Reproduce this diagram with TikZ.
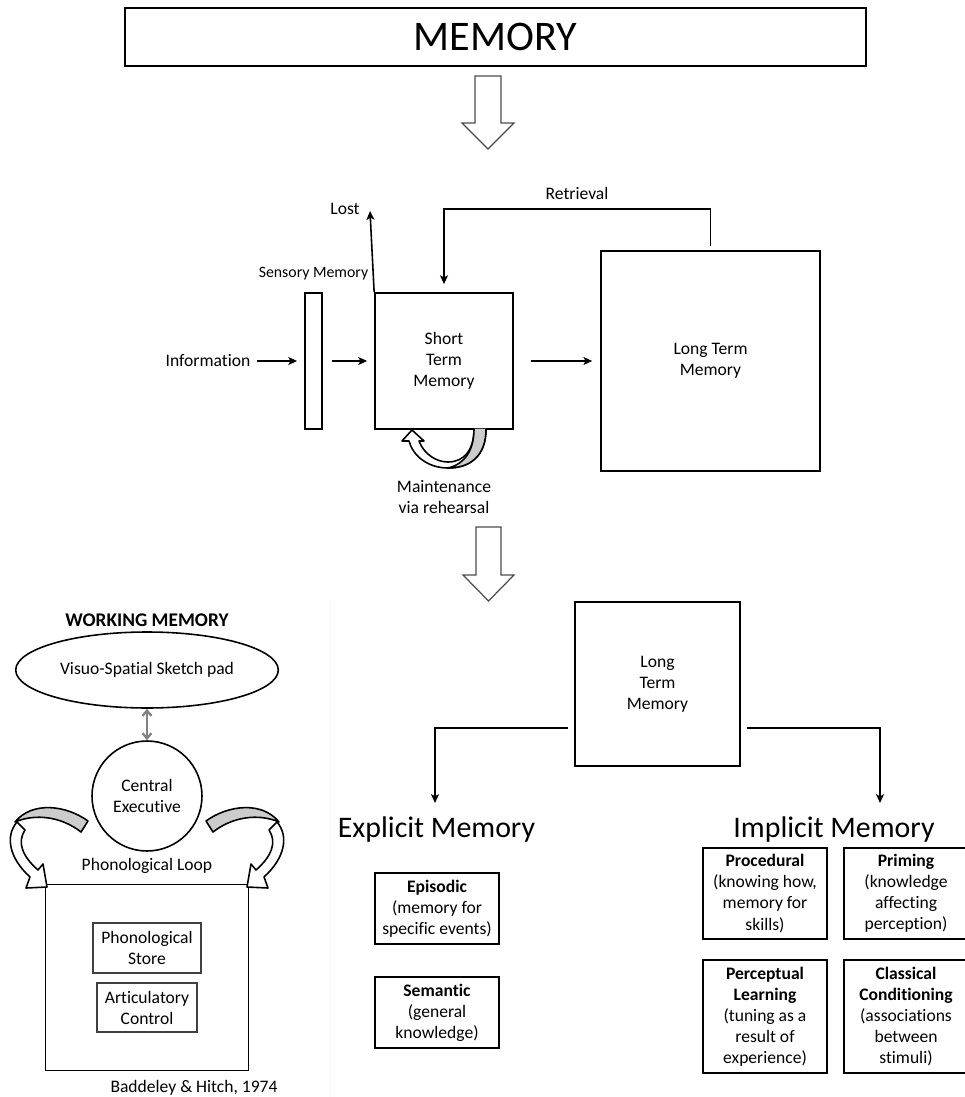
\documentclass[tikz,border=0pt]{standalone}
\usepackage{fontspec}
\setmainfont[Ligatures=NoCommon]{Carlito}
\usepackage{tikz}
\usetikzlibrary{arrows.meta, positioning, calc, shapes.geometric}

\tikzset{
  box/.style={draw, line width=1pt, align=center, inner sep=2pt},
  subbox/.style={draw=black!75, line width=0.7pt, align=center, inner sep=2pt},
  flow/.style={-{Stealth[length=5pt,width=4.5pt,inset=1.2pt]}, line width=0.9pt},
  gap/.style={shorten <=5pt, shorten >=4pt},
  hollow/.style={draw, line width=0.9pt, fill=white, line join=round},
  blockarrow/.style={draw=black!70, line width=0.7pt, fill=white},
  twist/.style={draw, line width=0.9pt, fill=gray!40, line join=round},
  duplex/.style={{Straight Barb[length=3pt,width=5pt]}-{Straight Barb[length=3pt,width=5pt]}, draw=gray, line width=1.3pt},
}
\newcommand{\wmcurve}{%
  \draw[hollow] (17,822) .. controls (5,836) and (9,858) .. (30,877) -- (26,888) -- (47,887) -- (43,864) -- (38,870) .. controls (22,856) and (17,842) .. (25,830) -- cycle;
  \draw[twist] (88,821) .. controls (66,805) and (32,801) .. (15,822) .. controls (36,813) and (62,817) .. (81,832) -- cycle;
}

\begin{document}
\begin{tikzpicture}[x=0.02cm, y=-0.02cm, font=\fontsize{10}{12}\selectfont]
  \fill[white] (0,0) rectangle (964,1097);
  \useasboundingbox (0,0) rectangle (964,1097);
  \draw[black!3] (330,600) -- (330,1097);

  \node[box, minimum width=14.82cm, minimum height=1.16cm, font=\fontsize{24}{28}\selectfont] (title) at (495.5,37) {MEMORY};
  \draw[blockarrow] (475,76) -- (501,76) -- (501,123) -- (514,123) -- (488,149) -- (462,123) -- (475,123) -- cycle;

  \node[box, minimum width=0.34cm, minimum height=2.72cm] (sm) at (313.5,361) {};
  \node[font=\fontsize{9}{11}\selectfont, above=0.12cm of sm] (smlabel) {Sensory Memory};
  \node[box, minimum width=2.76cm, minimum height=2.72cm] (stm) at (444,361) {Short\\Term\\Memory};
  \node[box, minimum width=4.38cm, minimum height=4.4cm] (ltm) at (710.5,361) {Long Term\\Memory};
  \node (info) at (208,361) {Information};
  \node (lost) at (345,209) {Lost};
  \node (retr) at (577,193) {Retrieval};
  \node[align=center] (maint) at (444,497) {Maintenance\\via rehearsal};
  \coordinate (lostend) at (370,211);
  \coordinate (rtop) at (577,209);
  \draw[flow, shorten >=4pt] (info) -- (sm);
  \draw[flow, gap] (sm) -- (stm);
  \draw[flow, shorten <=10pt, shorten >=4.5pt] (stm) -- (ltm);
  \draw[flow] (stm.north west) -- (lostend);
  \draw[flow] ([yshift=0.08cm]ltm.north) |- (rtop) -| ([yshift=0.16cm]stm.north);
  \draw[hollow] (486,429) .. controls (486,456) and (470,468) .. (448,468) .. controls (428,468) and (413,456) .. (409,441) -- (402,441) -- (412,430) -- (424,441) -- (419,441) .. controls (424,454) and (436,462) .. (448,462) .. controls (464,462) and (474,450) .. (474,429);
  \draw[twist] (486,429) .. controls (486,456) and (470,468) .. (448,468) .. controls (465,464) and (474,450) .. (474,429);

  \draw[blockarrow] (476,527) -- (501,527) -- (501,575) -- (514,575) -- (488.5,601) -- (463,575) -- (476,575) -- cycle;

  \node[box, minimum width=3.3cm, minimum height=3.28cm] (ltm2) at (657.5,684) {Long\\Term\\Memory};
  \node[font=\fontsize{17}{20}\selectfont, anchor=base] (explicit) at (436.5,837) {Explicit Memory};
  \node[font=\fontsize{17}{20}\selectfont, anchor=base] (implicit) at (834,837) {Implicit Memory};
  \coordinate (bl) at (568,728);
  \coordinate (br) at (747,728);
  \coordinate (expin) at (435,803);
  \coordinate (impin) at (880,803);
  \draw[flow] (bl) -| (expin);
  \draw[flow] (br) -| (impin);

  \node[box, minimum width=2.48cm, minimum height=1.42cm] (episodic) at (437,908.5) {\textbf{Episodic}\\(memory for\\specific events)};
  \node[box, minimum width=2.48cm, minimum height=1.42cm] (semantic) at (437,1012.5) {\textbf{Semantic}\\(general\\knowledge)};
  \node[box, minimum width=2.48cm, minimum height=1.82cm] (procedural) at (765,893.5) {\textbf{Procedural}\\(knowing how,\\memory for\\skills)};
  \node[box, minimum width=2.48cm, minimum height=1.82cm] (priming) at (906,893.5) {\textbf{Priming}\\(knowledge\\affecting\\perception)};
  \node[box, minimum width=2.48cm, minimum height=2.26cm] (perceptual) at (765,1016.5) {\textbf{Perceptual}\\\textbf{Learning}\\(tuning as a\\result of\\experience)};
  \node[box, minimum width=2.48cm, minimum height=2.26cm] (classical) at (906,1016.5) {\textbf{Classical}\\\textbf{Conditioning}\\(associations\\between\\stimuli)};

  \node[font=\fontsize{11}{13}\selectfont\bfseries] (wmtitle) at (147,620) {WORKING MEMORY};
  \node[draw, ellipse, line width=0.9pt, minimum width=4.08cm, minimum height=1.52cm] (vssp) at (147,670) {Visuo-Spatial Sketch pad};
  \node[draw, circle, line width=0.9pt, minimum size=2.2cm, align=center] (ce) at (147,796) {Central\\Executive};
  \draw[duplex] (vssp) -- (ce);
  \node (ploop) at (147,866) {Phonological Loop};
  \node[box, minimum width=4.06cm, minimum height=3.72cm] (pl) at (147,977.5) {};
  \node[subbox, minimum width=2.16cm, minimum height=1.0cm] (pstore) at (147,948) {Phonological\\Store};
  \node[subbox, minimum width=2.0cm, minimum height=0.98cm] (artic) at (147,1007.5) {Articulatory\\Control};
  \node (cite) at (194,1088) {Baddeley \& Hitch, 1974};
  \wmcurve
  \begin{scope}[shift={(294,0)}, xscale=-1]
    \wmcurve
  \end{scope}
\end{tikzpicture}
\end{document}
